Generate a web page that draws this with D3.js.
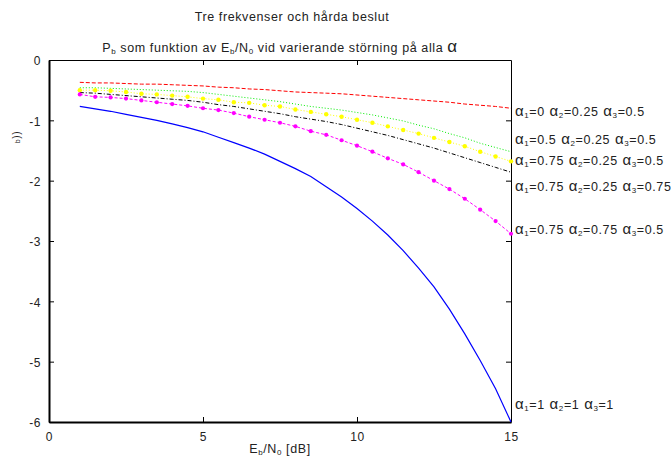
<!DOCTYPE html>
<meta charset="utf-8">
<script src="https://d3js.org/d3.v7.js"></script>
<style>
  body { margin: 0; background: #fff; }
  text { font-family: "Liberation Sans", Arial, sans-serif; fill: #222; letter-spacing: 0.6px; }
</style>
<div id="my_dataviz"></div>
<script>

// Eb/N0 in dB, 0.5 dB steps
var ebno = d3.range(1, 15.01, 0.5);

// log10(Pb) for each alpha setting
var redVals = [-0.37,-0.38,-0.38,-0.39,-0.40,-0.40,-0.41,-0.42,-0.43,-0.45,-0.46,-0.48,-0.49,-0.51,-0.53,
               -0.54,-0.55,-0.56,-0.58,-0.60,-0.62,-0.64,-0.66,-0.68,-0.70,-0.73,-0.75,-0.77,-0.80];
var greenVals = [-0.46,-0.46,-0.47,-0.48,-0.49,-0.50,-0.51,-0.52,-0.54,-0.57,-0.60,-0.63,-0.66,-0.69,-0.73,
                 -0.77,-0.80,-0.83,-0.87,-0.91,-0.96,-1.01,-1.08,-1.14,-1.22,-1.29,-1.38,-1.45,-1.52];
var yellowVals = [-0.50,-0.50,-0.51,-0.53,-0.56,-0.57,-0.59,-0.61,-0.64,-0.66,-0.70,-0.71,-0.75,-0.77,-0.82,
                  -0.86,-0.90,-0.94,-0.99,-1.04,-1.10,-1.16,-1.22,-1.29,-1.36,-1.43,-1.52,-1.60,-1.68];
var blackVals = [-0.54,-0.55,-0.57,-0.59,-0.61,-0.63,-0.65,-0.67,-0.70,-0.74,-0.77,-0.81,-0.85,-0.89,-0.94,
                 -0.98,-1.02,-1.07,-1.13,-1.19,-1.25,-1.32,-1.39,-1.46,-1.54,-1.62,-1.70,-1.78,-1.86];
var magentaVals = [-0.57,-0.61,-0.62,-0.64,-0.67,-0.70,-0.73,-0.76,-0.80,-0.83,-0.88,-0.94,-0.99,-1.04,-1.10,
                   -1.18,-1.24,-1.33,-1.42,-1.52,-1.63,-1.73,-1.86,-2.00,-2.14,-2.30,-2.48,-2.67,-2.88];
var blueVals = [-0.77,-0.81,-0.85,-0.90,-0.95,-1.00,-1.06,-1.12,-1.19,-1.28,-1.37,-1.46,-1.56,-1.68,-1.80,
                -1.93,-2.10,-2.27,-2.46,-2.67,-2.90,-3.16,-3.45,-3.76,-4.13,-4.54,-4.98,-5.45,-6.00];

// alpha1, alpha2, alpha3 for each curve
var alphas = [["0","0.25","0.5"], ["0.5","0.25","0.5"], ["0.75","0.25","0.5"],
              ["0.75","0.25","0.75"], ["0.75","0.75","0.5"], ["1","1","1"]];
// where the curve labels sit (y value)
var labelAt = [-0.86, -1.33, -1.67, -2.10, -2.82, -5.72];

var xTicks = [0, 5, 10, 15];
var yTicks = [0, -1, -2, -3, -4, -5, -6];

var series = [
  {vals: redVals,     color: "#ff0000", dash: "4,2",     marker: null},
  {vals: greenVals,   color: "#00ee00", dash: "1,2",     marker: null},
  {vals: yellowVals,  color: "#ffff00", dash: "1,2",     marker: 2.2},
  {vals: blackVals,   color: "#000000", dash: "4,2,1,2", marker: null},
  {vals: magentaVals, color: "#ff00ff", dash: "3,2",     marker: 2.1},
  {vals: blueVals,    color: "#0000ff", dash: null,      marker: null}
];

var W = 672, H = 460;
var pLeft = 49, pRight = 511, pTop = 60, pBottom = 422;

var svg = d3.select("#my_dataviz")
  .append("svg")
    .attr("width", W)
    .attr("height", H);

var x = d3.scaleLinear().domain([0, 15]).range([pLeft, pRight]);
var y = d3.scaleLinear().domain([-6, 0]).range([pBottom, pTop]);

// axes (ticks inward, box all round)
var gBottom = svg.append("g")
  .attr("transform", "translate(0," + pBottom + ")")
  .call(d3.axisBottom(x).tickValues(xTicks).tickSizeInner(-5).tickSizeOuter(0).tickPadding(10));
svg.append("g")
  .attr("transform", "translate(0," + pTop + ")")
  .call(d3.axisTop(x).tickValues([5, 10]).tickSizeInner(-5).tickSizeOuter(0).tickFormat(""));
var gLeft = svg.append("g")
  .attr("transform", "translate(" + pLeft + ",0)")
  .call(d3.axisLeft(y).tickValues(yTicks).tickSizeInner(-5).tickSizeOuter(0).tickPadding(8)
        .tickFormat(function(d) { return String(d); }));
svg.append("g")
  .attr("transform", "translate(" + pRight + ",0)")
  .call(d3.axisRight(y).tickValues([-1, -2, -3, -4, -5]).tickSizeInner(-5).tickSizeOuter(0).tickFormat(""));

svg.selectAll(".domain").attr("stroke", "#000");
svg.selectAll(".tick line").attr("stroke", "#000");
svg.selectAll(".tick text").style("font-size", "12px").attr("fill", "#222");
gBottom.select(".domain").attr("stroke-width", 2);
gLeft.select(".domain").attr("stroke-width", 2);
gLeft.selectAll(".tick text").attr("dy", "0.4em");

// curves
var line = d3.line()
  .x(function(d, i) { return x(ebno[i]); })
  .y(function(d) { return y(d); });

series.forEach(function(s) {
  svg.append("path")
    .attr("d", line(s.vals))
    .attr("fill", "none")
    .attr("stroke", s.color)
    .attr("stroke-width", s.dash ? 1 : 1.2)
    .attr("stroke-dasharray", s.dash);
  if (s.marker) {
    svg.append("g").selectAll("circle")
      .data(s.vals)
      .enter()
      .append("circle")
        .attr("cx", function(d, i) { return x(ebno[i]); })
        .attr("cy", function(d) { return y(d); })
        .attr("r", s.marker)
        .attr("fill", s.color);
  }
});

// curve labels
alphas.forEach(function(a, k) {
  var t = svg.append("text")
    .attr("x", pRight + 4)
    .attr("y", y(labelAt[k]) + 4)
    .style("font-size", "12.5px");
  a.forEach(function(v, j) {
    t.append("tspan").text((j > 0 ? " " : "") + "α").style("font-size", "15px");
    t.append("tspan").text(j + 1).style("font-size", "8px").attr("dy", 2);
    t.append("tspan").text("=" + v).attr("dy", -2);
  });
});

// titles
svg.append("text")
  .attr("x", 292).attr("y", 21)
  .attr("text-anchor", "middle")
  .style("font-size", "12.5px")
  .text("Tre frekvenser och hårda beslut");

var sub = svg.append("text")
  .attr("x", (pLeft + pRight) / 2).attr("y", 52)
  .attr("text-anchor", "middle")
  .style("font-size", "12.5px");
sub.append("tspan").text("P");
sub.append("tspan").text("b").style("font-size", "8px").attr("dy", 2);
sub.append("tspan").text(" som funktion av E").attr("dy", -2);
sub.append("tspan").text("b").style("font-size", "8px").attr("dy", 2);
sub.append("tspan").text("/N").attr("dy", -2);
sub.append("tspan").text("0").style("font-size", "8px").attr("dy", 2);
sub.append("tspan").text(" vid varierande störning på alla ").attr("dy", -2);
sub.append("tspan").text("α").style("font-size", "17px");

var xl = svg.append("text")
  .attr("x", (pLeft + pRight) / 2).attr("y", 453)
  .attr("text-anchor", "middle")
  .style("font-size", "12.5px");
xl.append("tspan").text("E");
xl.append("tspan").text("b").style("font-size", "8px").attr("dy", 2);
xl.append("tspan").text("/N").attr("dy", -2);
xl.append("tspan").text("0").style("font-size", "8px").attr("dy", 2);
xl.append("tspan").text(" [dB]").attr("dy", -2);

// y label, cut off in the original
var yl = svg.append("text")
  .attr("transform", "translate(20,137) rotate(-90)")
  .attr("text-anchor", "middle")
  .style("font-size", "10px");
yl.append("tspan").text("b").style("font-size", "7px");
yl.append("tspan").text("))");

</script>
